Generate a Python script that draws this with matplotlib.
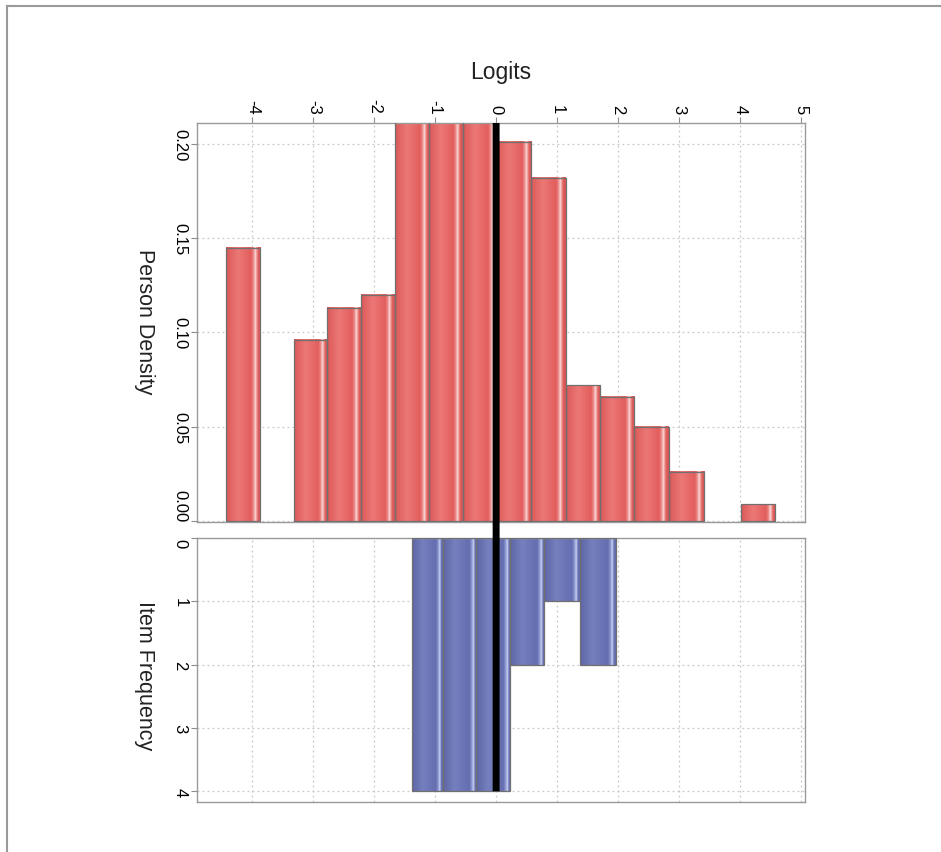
import numpy as np
import matplotlib
matplotlib.use('Agg')
import matplotlib.pyplot as plt
from matplotlib.patches import Rectangle, ConnectionPatch
from matplotlib.lines import Line2D

# person distribution (density histogram on the logit scale)
person_edges = [-4.44, -3.88, -3.32, -2.77, -2.21, -1.66, -1.10, -0.55, 0.01,
                0.58, 1.14, 1.70, 2.26, 2.83, 3.42, 4.02, 4.58]
person_density = [0.145, 0.0, 0.096, 0.113, 0.120, 0.230, 0.240, 0.226,
                  0.201, 0.182, 0.072, 0.066, 0.050, 0.026, 0.0, 0.009]

# item distribution (counts)
item_edges = [-1.38, -0.88, -0.33, 0.23, 0.79, 1.37, 1.96]
item_freq = [4, 4, 4, 2, 1, 2]

logit_ticks = [-4, -3, -2, -1, 0, 1, 2, 3, 4, 5]
density_ticks = [0.00, 0.05, 0.10, 0.15, 0.20]
density_labels = ['0.00', '0.05', '0.10', '0.15', '0.20']
freq_ticks = [0, 1, 2, 3, 4]
item_mean = 0.0

plt.rcParams['font.family'] = ['Liberation Sans', 'DejaVu Sans']
plt.rcParams['axes.unicode_minus'] = False

W, H = 941, 853
fig = plt.figure(figsize=(W / 100, H / 100), dpi=100)


def box(l, t, r, b):
    return [l / W, 1 - b / H, (r - l) / W, (b - t) / H]


def shade(stops_pos, stops_rgb):
    # horizontal shading used to fill each bar
    x = np.linspace(0, 1, 200)
    rgb = np.array(stops_rgb, dtype=float) / 255.0
    img = np.stack([np.interp(x, stops_pos, rgb[:, k]) for k in range(3)], axis=-1)
    return img[np.newaxis, :, :]


red_shade = shade([0.0, 0.06, 0.35, 0.72, 0.80, 0.84, 0.88, 0.93, 1.0],
                  [(205, 82, 82), (222, 95, 93), (236, 120, 118), (226, 94, 92),
                   (238, 150, 148), (252, 222, 222), (238, 150, 148), (222, 90, 88), (214, 86, 85)])
blue_shade = shade([0.0, 0.06, 0.35, 0.78, 0.86, 0.90, 0.94, 1.0],
                   [(88, 96, 160), (98, 106, 170), (118, 128, 190), (100, 110, 176),
                    (150, 160, 215), (205, 214, 245), (110, 120, 185), (96, 106, 172)])


def shaded_bars(ax, edges, heights, img):
    for x0, x1, h in zip(edges[:-1], edges[1:], heights):
        if h <= 0:
            continue
        ax.imshow(img, extent=[x0, x1, 0, h], aspect='auto',
                  interpolation='bilinear', zorder=2)
        ax.add_patch(Rectangle((x0, 0), x1 - x0, h, fill=False,
                               edgecolor='#707070', lw=0.9, zorder=3))


ax1 = fig.add_axes(box(197, 124, 805, 523))
ax2 = fig.add_axes(box(197, 539, 805, 803))

shaded_bars(ax1, person_edges, person_density, red_shade)
shaded_bars(ax2, item_edges, item_freq, blue_shade)

for ax in (ax1, ax2):
    ax.set_axisbelow(True)
    ax.grid(True, linestyle=(0, (1.5, 2.5)), color='#c8c8c8', lw=0.9)
    ax.set_xticks(logit_ticks)
    ax.set_xlim(-4.91, 5.07)
    for s in ax.spines.values():
        s.set_color('#9a9a9a')
        s.set_linewidth(1.0)

ax1.set_ylim(-0.0005, 0.2111)
ax1.set_yticks(density_ticks)
ax1.set_yticklabels(density_labels)
ax1.xaxis.tick_top()
ax1.tick_params(axis='x', top=True, bottom=False, labeltop=True, labelbottom=False,
                length=4, color='#8c8c8c', labelsize=12, pad=3, labelrotation=-90)
ax1.tick_params(axis='y', length=4, color='#8c8c8c', labelsize=12, pad=3, labelrotation=-90)
for t in ax1.get_yticklabels():
    t.set_va('center')
# keep the baseline label clear of the lower panel's "0"
ax1.get_yticklabels()[0].set_va('bottom')

ax2.set_ylim(4.17, 0)
ax2.set_yticks(freq_ticks)
ax2.set_yticklabels([str(v) for v in freq_ticks])
ax2.tick_params(axis='x', length=0, labelbottom=False)
ax2.tick_params(axis='y', length=4, color='#8c8c8c', labelsize=12, pad=3, labelrotation=-90)
for t in ax2.get_yticklabels():
    t.set_va('center')
ax2.get_yticklabels()[0].set_va('top')

# item mean line running through both panels
con = ConnectionPatch(xyA=(item_mean, 0.2111), coordsA=ax1.transData,
                      xyB=(item_mean, 4), coordsB=ax2.transData,
                      color='black', lw=5, capstyle='butt', zorder=5)
fig.add_artist(con)

fig.text(501 / W, 1 - 73 / H, 'Logits', fontsize=16.5, ha='center', va='center', color='#222222')
fig.text(145 / W, 1 - 322 / H, 'Person Density', fontsize=15.5, rotation=-90,
         ha='center', va='center', color='#222222')
fig.text(145 / W, 1 - 676 / H, 'Item Frequency', fontsize=15.5, rotation=-90,
         ha='center', va='center', color='#222222')

# outer frame (left and top)
fig.add_artist(Line2D([7 / W, 7 / W], [0, 1 - 7 / H], transform=fig.transFigure,
                      color='#9a9a9a', lw=1.5))
fig.add_artist(Line2D([7 / W, 1], [1 - 7 / H, 1 - 7 / H], transform=fig.transFigure,
                      color='#9a9a9a', lw=1.5))

fig.savefig('out.png', dpi=100)
